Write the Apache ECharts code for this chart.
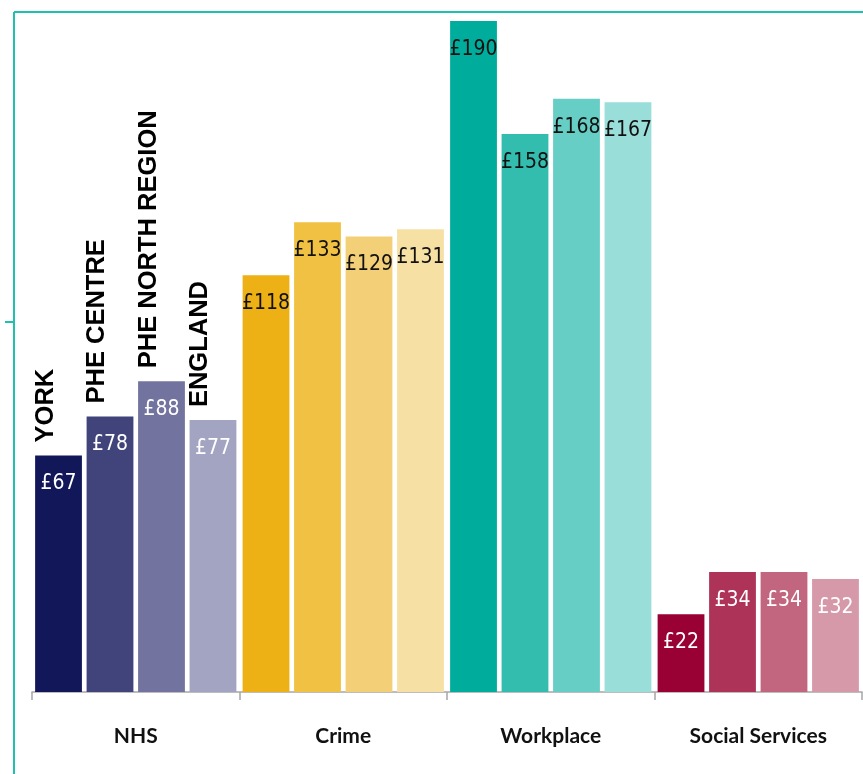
<!DOCTYPE html>
<html>
<head>
<meta charset="utf-8">
<script src="https://cdn.jsdelivr.net/npm/echarts@6/dist/echarts.min.js"></script>
<style>
  html, body { margin: 0; padding: 0; background: #ffffff; }
  #chart { width: 863px; height: 774px; }
</style>
</head>
<body>
<div id="chart"></div>
<script>
// Cost categories along the x axis
const categories = ['NHS', 'Crime', 'Workplace', 'Social Services'];

// One series per area; each value is cost in pounds
const areaNames = ['YORK', 'PHE CENTRE', 'PHE NORTH REGION', 'ENGLAND'];
const yorkValues = [67, 118, 190, 22];
const centreValues = [78, 133, 158, 34];
const northValues = [88, 129, 168, 34];
const englandValues = [77, 131, 167, 32];
const seriesValues = [yorkValues, centreValues, northValues, englandValues];

// Bar fills: one palette per category, darkest to lightest across the areas
const categoryPalettes = [
  ['#12175a', '#40447a', '#72749f', '#a3a4c2'],
  ['#eeb115', '#f0c142', '#f3d077', '#f6e0a4'],
  ['#00ac9b', '#33bdaf', '#66cec4', '#99ded8'],
  ['#990033', '#ad3358', '#c2667f', '#d699aa']
];
// Value label colour per category
const labelColours = ['#ffffff', '#111111', '#111111', '#ffffff'];

const chart = echarts.init(document.getElementById('chart'));

const series = areaNames.map((area, s) => ({
  name: area,
  type: 'bar',
  barGap: '10%',
  barCategoryGap: '3%',
  data: seriesValues[s].map((v, c) => ({
    value: v,
    itemStyle: { color: categoryPalettes[c][s] },
    label: { color: labelColours[c] }
  })),
  label: {
    show: true,
    position: 'insideTop',
    distance: 18,
    formatter: '£{c}',
    fontFamily: "'DejaVu Sans Condensed', 'Liberation Sans Narrow', sans-serif",
    fontSize: 21
  },
  // area name written upright above the NHS bar
  markPoint: {
    symbol: 'circle',
    symbolSize: 1,
    itemStyle: { color: 'rgba(0,0,0,0)' },
    data: [{ name: area, coord: [categories[0], seriesValues[s][0]] }],
    label: {
      show: true,
      position: 'inside',
      formatter: '{b}',
      rotate: 90,
      align: 'left',
      verticalAlign: 'middle',
      offset: [13, -13],
      color: '#000000',
      fontFamily: "'Liberation Sans', Arial, sans-serif",
      fontWeight: 'bold',
      fontSize: 25.5
    }
  }
}));

chart.setOption({
  animation: false,
  backgroundColor: '#ffffff',
  grid: { left: 32, right: 1, top: 21, bottom: 82, containLabel: false },
  xAxis: {
    type: 'category',
    data: categories,
    axisLine: { lineStyle: { color: '#a6a6a6', width: 1.5 } },
    axisTick: { show: true, length: 8, lineStyle: { color: '#a6a6a6', width: 1.5 } },
    axisLabel: {
      margin: 34,
      color: '#111111',
      fontFamily: 'Lato, sans-serif',
      fontWeight: 'bold',
      fontSize: 21
    }
  },
  yAxis: {
    type: 'value',
    min: 0,
    max: 190,
    show: false
  },
  graphic: [
    { type: 'line', shape: { x1: 14, y1: 12, x2: 863, y2: 12 }, style: { stroke: '#20bfae', lineWidth: 2 } },
    { type: 'line', shape: { x1: 14, y1: 12, x2: 14, y2: 774 }, style: { stroke: '#20bfae', lineWidth: 2 } },
    { type: 'line', shape: { x1: 5, y1: 322, x2: 14, y2: 322 }, style: { stroke: '#20bfae', lineWidth: 2 } }
  ],
  series: series
});
</script>
</body>
</html>
